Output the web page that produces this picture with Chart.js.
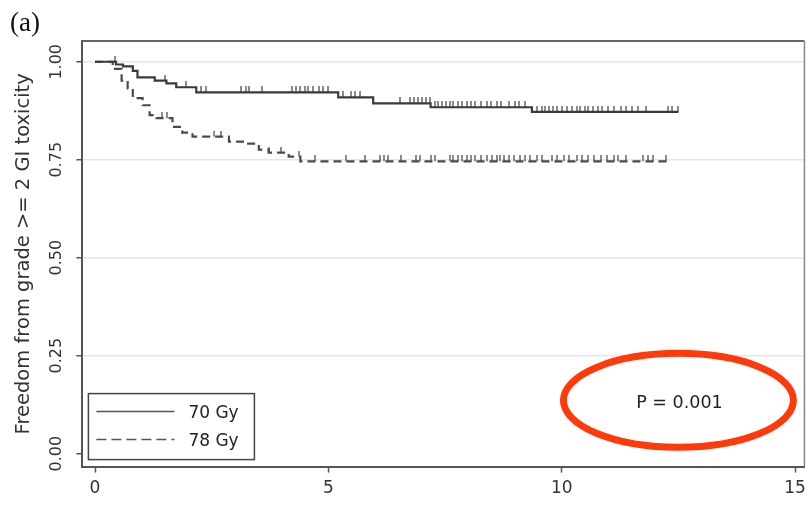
<!DOCTYPE html>
<html>
<head>
<meta charset="utf-8">
<script src="https://cdn.jsdelivr.net/npm/chart.js@4.4.1/dist/chart.umd.min.js"></script>
<style>
  html, body { margin: 0; padding: 0; background: #fff; }
  #wrap { width: 812px; height: 511px; }
</style>
</head>
<body>
<div id="wrap"><canvas id="kmChart" width="812" height="511"></canvas></div>
<script>
const xTicks = [0, 5, 10, 15];
const yTicks = [0, 0.25, 0.5, 0.75, 1];
const seriesLabels = ['70 Gy', '78 Gy'];
const yTitle = 'Freedom from grade >= 2 GI toxicity';
const panelLabel = '(a)';
const pValueText = 'P = 0.001';

// 70 Gy: step times (years) and survival from that time on
const times70 = [0, 0.45, 0.60, 0.81, 0.91, 1.28, 1.53, 1.74, 2.17, 5.21, 5.96, 7.19, 9.36, 12.50];
const surv70 = [1.000, 0.993, 0.988, 0.977, 0.960, 0.952, 0.945, 0.935, 0.922, 0.909, 0.894, 0.884, 0.872, 0.872];
const censor70 = [0.43, 1.49, 1.96, 2.28, 2.38, 3.13, 3.23, 3.30, 3.57, 4.21, 4.30, 4.40, 4.49, 4.57, 4.68, 4.79,
  4.89, 5.00, 5.32, 5.49, 5.57, 5.68, 6.53, 6.74, 6.83, 6.91, 7.00, 7.09, 7.17, 7.28, 7.34, 7.43, 7.51, 7.60,
  7.68, 7.77, 7.87, 7.98, 8.06, 8.15, 8.28, 8.40, 8.49, 8.62, 8.70, 8.87, 9.00, 9.09, 9.21, 9.47, 9.57, 9.64,
  9.72, 9.81, 9.89, 10.00, 10.11, 10.21, 10.32, 10.40, 10.49, 10.57, 10.68, 10.77, 10.87, 11.00, 11.13, 11.26,
  11.38, 11.51, 11.64, 11.81, 12.28, 12.36, 12.49];

// 78 Gy
const times78 = [0, 0.38, 0.57, 0.70, 0.81, 1.02, 1.17, 1.32, 1.66, 1.87, 2.09, 2.87, 3.23, 3.51, 3.72, 4.15, 4.40, 12.30];
const surv78 = [1.000, 0.982, 0.952, 0.932, 0.907, 0.889, 0.864, 0.856, 0.834, 0.819, 0.809, 0.796, 0.791, 0.776, 0.768, 0.758, 0.746, 0.746];
const censor78 = [1.43, 1.55, 2.55, 2.70, 3.72, 3.98, 4.36, 4.72, 5.38, 5.79, 6.11, 6.19, 6.28, 6.55, 6.87, 6.96,
  7.19, 7.28, 7.60, 7.68, 7.77, 7.87, 7.98, 8.06, 8.15, 8.28, 8.40, 8.51, 8.62, 8.68, 8.77, 8.87, 8.98, 9.11,
  9.21, 9.32, 9.47, 9.57, 9.79, 9.89, 10.04, 10.15, 10.32, 10.43, 10.57, 10.70, 10.85, 10.96, 11.11, 11.21,
  11.38, 11.74, 11.85, 11.96, 12.23];

const FONT = 'DejaVu Sans';

function survivalAt(times, surv, t) {
    let v = surv[0];
    for (let i = 0; i < times.length; i++) {
        if (times[i] <= t) v = surv[i];
    }
    return v;
}

// small vertical tick above the point, used for censored cases
function makeCensorMark(h) {
    const c = document.createElement('canvas');
    c.width = 2;
    c.height = h * 2;
    const g = c.getContext('2d');
    g.fillStyle = 'rgba(90,90,90,0.7)';
    g.fillRect(0, 0, 2, h);
    return c;
}
const censorMark = makeCensorMark(6);

const overlay = {
    id: 'overlay',
    afterDraw(chart) {
        const { ctx, chartArea: a, scales: { x, y } } = chart;
        ctx.save();

        // top and right frame
        ctx.strokeStyle = '#666';
        ctx.lineWidth = 2;
        ctx.beginPath(); ctx.moveTo(a.left, a.top); ctx.lineTo(a.right, a.top); ctx.stroke();
        ctx.strokeStyle = '#888';
        ctx.lineWidth = 1.5;
        ctx.beginPath(); ctx.moveTo(a.right, a.top); ctx.lineTo(a.right, a.bottom); ctx.stroke();

        // rotated y tick labels
        ctx.fillStyle = '#333';
        ctx.font = `16px "${FONT}"`;
        ctx.textAlign = 'center';
        ctx.textBaseline = 'middle';
        yTicks.forEach(v => {
            ctx.save();
            ctx.translate(a.left - 26, y.getPixelForValue(v));
            ctx.rotate(-Math.PI / 2);
            ctx.fillText(v.toFixed(2), 0, 0);
            ctx.restore();
        });

        // panel label
        ctx.font = '27px "Liberation Serif"';
        ctx.textAlign = 'left';
        ctx.textBaseline = 'alphabetic';
        ctx.fillStyle = '#111';
        ctx.fillText(panelLabel, 10, 31);

        // legend box
        const lx = a.left + 6, ly = a.bottom - 73, lw = 166, lh = 66;
        ctx.fillStyle = '#fff';
        ctx.fillRect(lx, ly, lw, lh);
        ctx.strokeStyle = '#444';
        ctx.lineWidth = 1.5;
        ctx.strokeRect(lx, ly, lw, lh);
        ctx.strokeStyle = '#555';
        ctx.lineWidth = 1.5;
        ctx.beginPath(); ctx.moveTo(lx + 8, ly + 18); ctx.lineTo(lx + 86, ly + 18); ctx.stroke();
        ctx.setLineDash([10, 5]);
        ctx.beginPath(); ctx.moveTo(lx + 8, ly + 46); ctx.lineTo(lx + 86, ly + 46); ctx.stroke();
        ctx.setLineDash([]);
        ctx.fillStyle = '#222';
        ctx.font = `17px "${FONT}"`;
        ctx.textBaseline = 'middle';
        ctx.fillText(seriesLabels[0], lx + 100, ly + 20);
        ctx.fillText(seriesLabels[1], lx + 100, ly + 48);

        // p value with red ellipse
        const px = x.getPixelForValue(12.5), py = y.getPixelForValue(0.136);
        ctx.fillStyle = '#222';
        ctx.textAlign = 'center';
        ctx.font = `17.5px "${FONT}"`;
        ctx.fillText(pValueText, px + 1, py + 3);
        ctx.strokeStyle = '#ff3a0a';
        ctx.lineWidth = 7;
        ctx.beginPath();
        ctx.ellipse(px, py, 115, 47, 0, 0, Math.PI * 2);
        ctx.stroke();

        ctx.restore();
    }
};

new Chart(document.getElementById('kmChart').getContext('2d'), {
    type: 'line',
    data: {
        datasets: [
            {
                label: seriesLabels[0],
                data: times70.map((t, i) => ({ x: t, y: surv70[i] })),
                stepped: true,
                borderColor: '#3a3a3a',
                borderWidth: 2.2,
                pointRadius: 0,
                fill: false
            },
            {
                label: seriesLabels[1],
                data: times78.map((t, i) => ({ x: t, y: surv78[i] })),
                stepped: true,
                borderColor: '#4a4a4a',
                borderWidth: 2.2,
                borderDash: [8, 5],
                pointRadius: 0,
                fill: false
            },
            {
                label: 'censored 70',
                data: censor70.map(t => ({ x: t, y: survivalAt(times70, surv70, t) })),
                showLine: false,
                pointStyle: censorMark,
                pointRadius: 2
            },
            {
                label: 'censored 78',
                data: censor78.map(t => ({ x: t, y: survivalAt(times78, surv78, t) })),
                showLine: false,
                pointStyle: censorMark,
                pointRadius: 2
            }
        ]
    },
    options: {
        responsive: false,
        animation: false,
        layout: { padding: { top: 41, right: -5, left: 4, bottom: 6 } },
        plugins: { legend: { display: false }, tooltip: { enabled: false } },
        scales: {
            x: {
                type: 'linear',
                min: -0.27,
                max: 15.2,
                afterBuildTicks: s => { s.ticks = xTicks.map(v => ({ value: v })); },
                grid: { drawOnChartArea: false, tickLength: 6, tickColor: '#555', tickWidth: 1.5 },
                border: { color: '#555', width: 2 },
                ticks: {
                    font: { family: FONT, size: 17 },
                    color: '#333',
                    padding: 6,
                    maxRotation: 0,
                    callback: v => String(v)
                }
            },
            y: {
                type: 'linear',
                min: -0.033,
                max: 1.053,
                afterBuildTicks: s => { s.ticks = yTicks.map(v => ({ value: v })); },
                grid: {
                    color: c => (c.tick && c.tick.value === 0) ? 'rgba(0,0,0,0)' : '#e6e6e6',
                    lineWidth: 1.5,
                    tickLength: 6,
                    tickColor: '#555',
                    tickWidth: 1.5
                },
                border: { color: '#555', width: 2 },
                ticks: { display: false },
                title: {
                    display: true,
                    text: yTitle,
                    font: { family: FONT, size: 19.5 },
                    color: '#333',
                    padding: { top: 8, bottom: 41 }
                }
            }
        }
    },
    plugins: [overlay]
});
</script>
</body>
</html>
